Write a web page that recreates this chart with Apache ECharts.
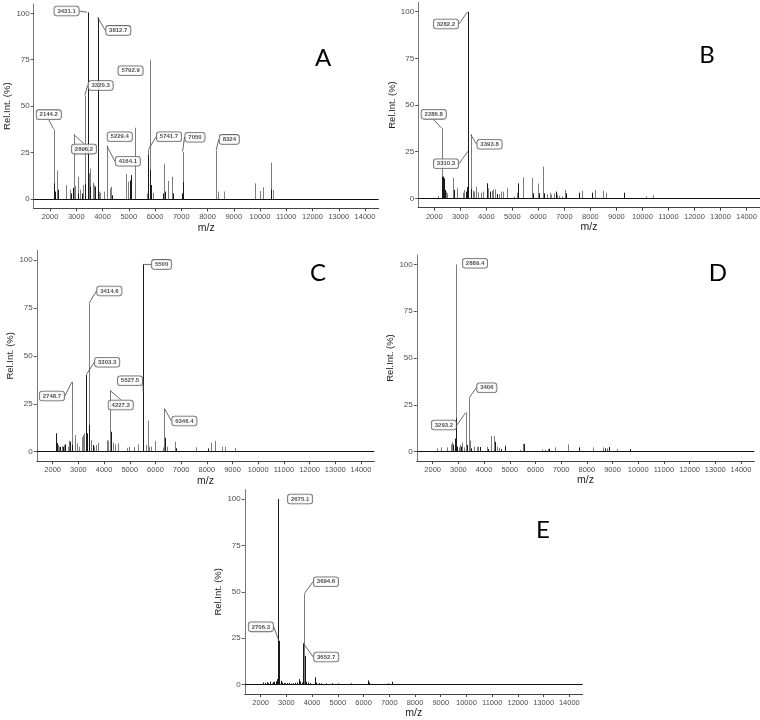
<!DOCTYPE html>
<html><head><meta charset="utf-8">
<script src="https://cdn.jsdelivr.net/npm/echarts@6/dist/echarts.min.js"></script>
<style>html,body{margin:0;padding:0;background:#fff}#c{width:760px;height:720px}</style>
</head><body><div id="c"></div>
<script>
// ---------- tick labels ----------
const xTicks = [2000,3000,4000,5000,6000,7000,8000,9000,10000,11000,12000,13000,14000];
const yTicks = [0,25,50,75,100];
const panelNames = ['A','B','C','D','E'];

// ---------- Panel A ----------
const A_mz   = [2144.2,2150,2175,2270,2290,2600,2760,2810,2860,2896.2,2950,3050,3070,3150,3200,3270,3320.3,3330,3431.1,3460,3480,3510,3540,3620,3670,3720,3812.7,3815,3860,3900,4060,4164.1,4300,4340,4360,4900,4990,5040,5090,5229.4,5690,5720,5741.7,5792.9,5810,5840,5930,6310,6345,6370,6510,6640,6680,7030,7050,7070,8324,8390,8610,9820,10010,10130,10400,10430,10480];
const A_int  = [37.5,8.4,4,15.3,5,7.5,5,3,6,34.8,7,12,3,5,3,7.5,55.5,8,100.5,10,13.8,16.5,6.6,8.8,7.5,6.6,97.8,21,4,3.4,4,28.7,5.7,6.6,2,13.5,9.3,10,12.9,38.4,3,23.7,26.4,75,15.6,7.5,3.4,3,18.9,4,9.7,12,3,3,25.3,9.2,26,4,4,8.4,4.3,6.3,5.2,19.6,4.8];
const A_dark = [0,1,1,0,1,0,0,1,1,0,0,0,1,0,1,0,0,1,1,1,0,0,1,0,0,1,1,1,0,0,0,0,0,0,1,0,0,1,1,0,0,1,0,0,1,1,0,1,0,1,0,0,1,1,0,1,0,0,0,0,0,0,1,0,0];
const A_labMz  = [2144.2,2896.2,3320.3,3431.1,3812.7,4164.1,5229.4,5741.7,5792.9,7050,8324];
const A_labInt = [37.5,34.8,55.5,100.5,97.8,28.7,38.4,26.4,75,25.3,26];

// ---------- Panel B ----------
const B_mz   = [2160,2286.8,2300,2330,2370,2400,2450,2500,2700,2740,2880,3090,3155,3200,3250,3282.2,3310.3,3393.8,3420,3470,3520,3600,3680,3780,3860,4030,4070,4130,4220,4270,4320,4400,4470,4550,4640,4790,5060,5180,5230,5410,5760,5800,5970,6010,6160,6200,6320,6440,6500,6590,6670,6720,6800,6900,7020,7050,7560,7680,8070,8190,8490,8610,9310,10140,10390];
const B_int  = [1.2,37.5,11.6,11.6,10.7,4.5,3.6,2.7,11,4.5,5.4,3,4.5,3.6,6,100,25.5,34.3,5,4,3.6,6.2,3.2,3,3.6,8,5.4,3.6,4,4.8,4.8,2.3,2.1,3.6,3.6,5.4,0.9,3,8,11.3,11,2.7,7.9,2.7,17,2.7,2.3,3,2,2.7,3.6,2.1,1.2,1,4.5,2.7,3,4,3,4.5,4,3,3,1,1.6];
const B_dark = [0,0,1,1,1,1,0,0,0,1,0,0,0,1,1,1,1,0,1,0,0,0,0,0,0,1,0,1,0,0,0,1,0,0,0,0,0,0,1,0,0,1,0,1,0,1,0,0,0,0,1,0,0,0,0,1,1,0,1,0,0,0,1,0,0];
const B_labMz  = [2286.8,3282.2,3310.3,3393.8];
const B_labInt = [37.5,100,25.5,34.3];

// ---------- Panel C ----------
const C_mz   = [2130,2150,2210,2250,2300,2350,2400,2440,2480,2590,2640,2690,2748.7,2770,2850,2950,3030,3130,3180,3230,3303.3,3330,3414.6,3430,3500,3550,3600,3700,3780,4100,4170,4227.3,4260,4330,4430,4550,4880,4980,5150,5320,5500,5527.5,5630,5700,5750,5810,5990,6290,6346.4,6370,6440,6770,6810,7560,8060,8170,8300,8600,8690,9100];
const C_int  = [9.6,4.5,3.5,2.5,2.5,3,2.5,3.5,3.8,2.5,5.7,5.2,36.5,3.5,8.7,4.3,2.6,7.5,8.7,9.6,40,9.6,77.4,13.9,6,3.5,2.6,3.5,4.7,6,5.7,32,10.4,4.7,3.8,4.3,2,2.6,2.4,3.8,97.7,30.4,3.5,16.2,2.6,2.6,5.6,2.2,22.6,7.3,2.6,5.2,1.8,2.3,1.7,4.7,5.7,2.6,2.6,2];
const C_dark = [1,1,0,0,1,0,1,0,1,0,0,1,0,1,0,0,0,0,0,0,1,1,0,1,0,1,0,0,0,0,0,0,1,0,0,0,0,0,0,0,1,1,0,0,0,0,0,0,0,1,0,0,1,0,1,0,0,0,0,0];
const C_labMz  = [2748.7,3303.3,3414.6,4227.3,5500,5527.5,6346.4];
const C_labInt = [36.5,40,77.4,32,97.7,30.4,22.6];

// ---------- Panel D ----------
const D_mz   = [2180,2310,2545,2714,2760,2800,2850,2889.4,2900,2950,3010,3060,3110,3150,3210,3293.2,3340,3406,3450,3500,3600,3714,3780,3840,4100,4170,4273,4390,4430,4520,4600,4660,4805,4830,5410,5520,5560,6246,6370,6493,6530,6766,7273,7714,8234,8636,8690,8770,8844,9168,9662];
const D_int  = [1.8,2.3,2.3,4,5.3,3.8,7,100,17.8,2.7,2.3,3.6,2.7,5,2.3,21,3.6,28.5,6,1.8,2.7,2.5,2.7,2.5,2.7,1.4,8.5,8.4,5.3,2.7,2.1,1.4,3.5,2.7,0.9,4.3,4.1,1.2,1,1.4,1.6,2.3,3.9,2.3,2.3,2.3,1.8,1.8,2.5,1.4,1.4];
const D_dark = [0,0,0,0,0,1,1,0,1,1,0,0,1,0,0,0,1,0,0,1,0,0,0,1,0,1,0,0,1,0,0,1,0,1,0,0,1,0,0,0,1,0,0,1,0,0,1,0,1,0,1];
const D_labMz  = [2889.4,3293.2,3406];
const D_labInt = [100,21,28.5];

// ---------- Panel E ----------
const E_mz   = [2100,2165,2230,2290,2360,2420,2490,2530,2580,2620,2650,2660,2675.1,2706.3,2730,2770,2830,2890,2950,3020,3100,3180,3260,3330,3400,3480,3540,3600,3640,3652.7,3694.6,3710,3760,3830,3900,4100,4150,4250,4350,4530,4790,5020,5500,6190,6210,6960,7090,7110];
const E_int  = [1.2,1.0,1.4,0.8,1.6,0.6,1.4,1.6,1.8,2.1,3,4.8,100,23.6,3,2.1,1.2,0.9,0.8,0.9,1.0,0.6,0.8,1.0,1.2,3,1.8,1.2,4,22.3,49,15.5,1.6,1.2,0.9,4,1.2,0.9,0.8,0.7,0.8,0.7,0.7,2.3,1.2,0.7,1.6,0.9];
const E_dark = [1,1,1,1,1,1,1,1,1,1,1,1,1,1,1,1,1,1,1,1,1,1,1,1,1,1,1,1,1,1,0,1,1,1,1,1,1,1,1,1,1,1,1,1,1,1,1,1];
const E_labMz  = [2675.1,2706.3,3652.7,3694.6];
const E_labInt = [100,23.6,22.3,49];

// ---------- layout (pixel geometry, not data) ----------
const X_MIN = 1380, X_MAX = 14520, Y_MIN = -5, Y_MAX = 105;
const layout = {
  A: {x0:50,   sx:26.25, y0:199,   sy:1.857, letter:[323,58],
      dx:[-5,10.5,16,-21,20.7,21,-15,20.8,-19,12.4,13.3], dy:[-14.7,14.7,-10.5,-1.3,13,15.5,9,-13.3,11,-14.7,-11.3],
      line:[1,1,1,1,1,1,0,1,0,1,1]},
  B: {x0:434.3,sx:26.03, y0:198.3, sy:1.866, letter:[707,55],
      dx:[-8,-21.7,-22.4,19], dy:[-14,12.3,13,10], line:[1,1,1,1]},
  C: {x0:52.7, sx:25.69, y0:451.7, sy:1.917, letter:[318,273],
      dx:[-20,21,20.3,10.8,19,-13.3,20], dy:[14.3,-12.7,-12.3,14.6,0,-12.7,12.6], line:[1,1,1,1,1,1,1]},
  D: {x0:432.7,sx:25.69, y0:451.7, sy:1.874, letter:[718,273],
      dx:[19.5,-22,18], dy:[-1,12.7,-10.6], line:[0,1,1]},
  E: {x0:260.7,sx:25.72, y0:685.7, sy:1.867, letter:[543,530],
      dx:[22,-18,23,21.7], dy:[0,-14,13.7,-12], line:[0,1,1,1]}
};
const panels = {
  A:{mz:A_mz,int:A_int,dark:A_dark,labMz:A_labMz,labInt:A_labInt},
  B:{mz:B_mz,int:B_int,dark:B_dark,labMz:B_labMz,labInt:B_labInt},
  C:{mz:C_mz,int:C_int,dark:C_dark,labMz:C_labMz,labInt:C_labInt},
  D:{mz:D_mz,int:D_int,dark:D_dark,labMz:D_labMz,labInt:D_labInt},
  E:{mz:E_mz,int:E_int,dark:E_dark,labMz:E_labMz,labInt:E_labInt}
};

const GRAY = '#7d7d7d', DARK = '#1a1a1a';
const FONT = 'Liberation Sans, Arial, sans-serif';
const grid = [], xAxis = [], yAxis = [], series = [], graphic = [];

panelNames.forEach((name, i) => {
  const L = layout[name], P = panels[name];
  grid.push({
    left: L.x0 + (X_MIN - 2000) / 1000 * L.sx,
    top: L.y0 - Y_MAX * L.sy,
    width: (X_MAX - X_MIN) / 1000 * L.sx,
    height: (Y_MAX - Y_MIN) * L.sy
  });
  xAxis.push({
    type:'value', gridIndex:i, min:X_MIN, max:X_MAX,
    axisLine:{show:true, onZero:false, lineStyle:{color:'#444', width:1}},
    axisTick:{show:true, customValues:xTicks, length:3, lineStyle:{color:'#444'}},
    axisLabel:{customValues:xTicks, fontSize:7.5, color:'#4d4d4d', margin:5, fontFamily:FONT,
      formatter: v => String(v)},
    splitLine:{show:false},
    name:'m/z', nameLocation:'middle', nameGap:14,
    nameTextStyle:{fontSize:10.5, color:'#222', fontFamily:FONT}
  });
  yAxis.push({
    type:'value', gridIndex:i, min:Y_MIN, max:Y_MAX,
    axisLine:{show:true, onZero:false, lineStyle:{color:'#777', width:1}},
    axisTick:{show:true, customValues:yTicks, length:3, lineStyle:{color:'#555'}},
    axisLabel:{customValues:yTicks, fontSize:8, color:'#4d4d4d', margin:4, fontFamily:FONT,
      formatter: v => String(v)},
    splitLine:{show:false},
    name:'Rel.Int. (%)', nameLocation:'middle', nameGap:20,
    nameTextStyle:{fontSize:9.5, color:'#222', fontFamily:FONT}
  });
  const pts = P.mz.map((m,k)=>[m, P.int[k], P.dark[k]]);
  pts.sort((a,b)=>a[2]-b[2]);
  series.push({
    type:'custom', xAxisIndex:i, yAxisIndex:i, silent:true, animation:false,
    data: pts,
    renderItem: function(params, api){
      const p0 = api.coord([api.value(0), 0]);
      const p1 = api.coord([api.value(0), api.value(1)]);
      const x = Math.round(p0[0]) + 0.5;
      return {type:'line', shape:{x1:x, y1:p0[1], x2:x, y2:p1[1]},
              style:{stroke: api.value(2) ? DARK : GRAY, lineWidth:1}};
    }
  });
  series.push({
    type:'scatter', xAxisIndex:i, yAxisIndex:i, silent:true, animation:false, z:5,
    data: P.labMz.map((m,k)=>({value:[m, P.labInt[k]], labelLine:{show: !!L.line[k]}})),
    symbolSize:1, itemStyle:{color:'rgba(0,0,0,0)'},
    label:{show:true, position:'inside', formatter:p=>String(p.value[0]),
      fontSize:6, fontWeight:'bold', color:'#222', fontFamily:FONT,
      backgroundColor:'#fff', borderColor:'#444', borderWidth:0.8, borderRadius:2.5, padding:[1.5,3]},
    labelLine:{show:true, lineStyle:{color:'#444', width:0.8}},
    labelLayout: function(p){ return {dx: L.dx[p.dataIndex], dy: L.dy[p.dataIndex]}; },
    markLine:{silent:true, symbol:'none', animation:false, label:{show:false},
      lineStyle:{color:'#111', width:1, type:'solid'}, data:[{yAxis:0}]}
  });
  graphic.push({type:'text', x:L.letter[0], y:L.letter[1],
    style:{text:name, fontSize:24, fill:'#000', align:'center', verticalAlign:'middle', fontFamily:'Lato, Open Sans, sans-serif'}});
});

const chart = echarts.init(document.getElementById('c'), null, {renderer:'canvas'});
chart.setOption({animation:false, textStyle:{fontFamily:FONT}, grid, xAxis, yAxis, series, graphic});
</script>
</body></html>
